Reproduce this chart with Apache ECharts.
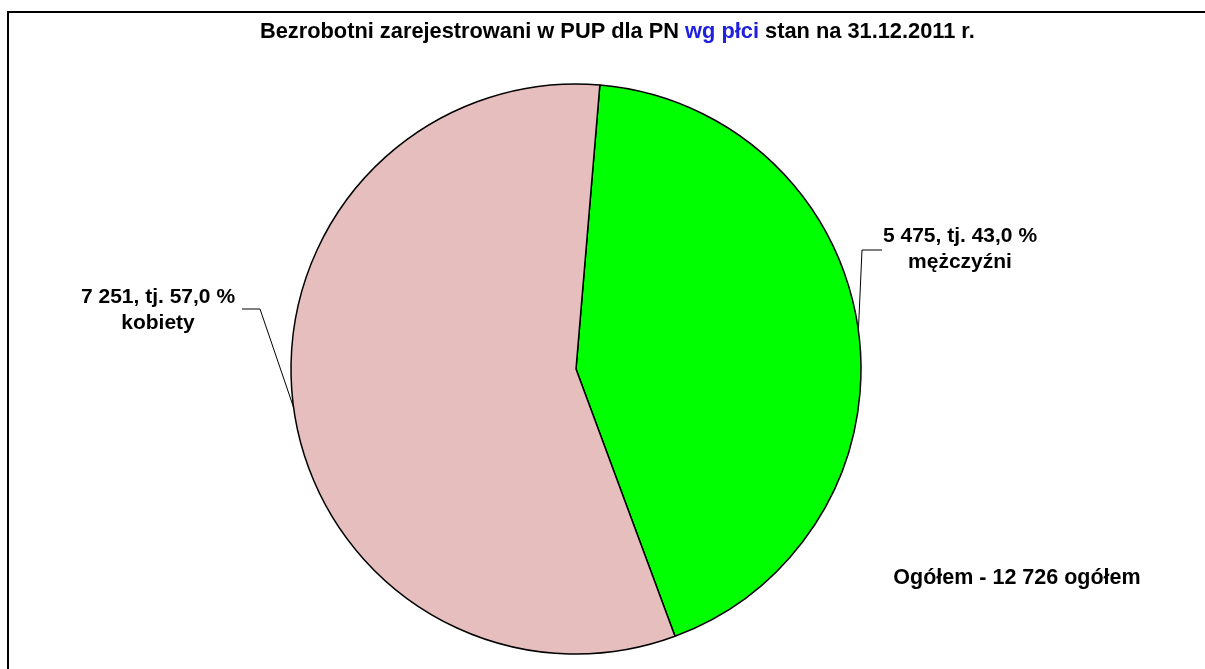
<!DOCTYPE html>
<html>
<head>
<meta charset="utf-8">
<script src="https://cdn.jsdelivr.net/npm/echarts@6/dist/echarts.min.js"></script>
<style>
  html, body { margin: 0; padding: 0; background: #fff; }
  #chart { width: 1205px; height: 669px; }
</style>
</head>
<body>
<div id="chart"></div>
<script>
const categories = ['mężczyźni', 'kobiety']
const values = [5475, 7251]
const colors = ['#00FF00', '#E6BEBE']

const total = values.reduce((a, b) => a + b, 0)

function fmtNum(n) {
  return String(n).replace(/\B(?=(\d{3})+(?!\d))/g, ' ')
}

// label anchors and leader elbows, per slice
const labelPos = [
  { x: 960, y: 249, elbow: [862, 250], end: [882, 250] },
  { x: 158, y: 310, elbow: [260, 309], end: [242, 309] }
]

const chart = echarts.init(document.getElementById('chart'))

chart.setOption({
  animation: false,
  backgroundColor: '#fff',
  title: {
    text: '{a|Bezrobotni zarejestrowani w PUP dla PN }{b|wg płci}{a| stan na 31.12.2011 r.}',
    left: 255,
    top: 16,
    textStyle: {
      rich: {
        a: { fontFamily: 'Liberation Sans, Arial', fontWeight: 'bold', fontSize: 21.8, color: '#000' },
        b: { fontFamily: 'Liberation Sans, Arial', fontWeight: 'bold', fontSize: 21.8, color: '#2020E0' }
      }
    }
  },
  graphic: [
    {
      type: 'rect',
      shape: { x: 8, y: 12, width: 1400, height: 900 },
      style: { fill: null, stroke: '#000', lineWidth: 2 },
      z: 100
    },
    {
      type: 'text',
      x: 1017,
      y: 578,
      style: {
        text: 'Ogółem - ' + fmtNum(total) + ' ogółem',
        fontFamily: 'Liberation Sans, Arial',
        fontWeight: 'bold',
        fontSize: 21.5,
        fill: '#000',
        align: 'center',
        verticalAlign: 'middle'
      }
    }
  ],
  series: [
    {
      type: 'pie',
      center: [576, 369],
      radius: 285,
      startAngle: 85.2,
      clockwise: true,
      data: categories.map((name, i) => ({
        name: name,
        value: values[i],
        itemStyle: { color: colors[i] }
      })),
      itemStyle: {
        borderColor: '#000',
        borderWidth: 1.5
      },
      label: {
        show: true,
        position: 'outside',
        fontFamily: 'Liberation Sans, Arial',
        fontWeight: 'bold',
        fontSize: 21,
        lineHeight: 26,
        color: '#000',
        align: 'center',
        formatter: (p) => fmtNum(p.value) + ', tj. ' + p.percent.toFixed(1).replace('.', ',') + ' %\n' + p.name
      },
      labelLine: {
        show: true,
        lineStyle: { color: '#000', width: 1 }
      },
      labelLayout: (params) => {
        const pos = labelPos[params.dataIndex]
        const start = params.labelLinePoints ? params.labelLinePoints[0] : pos.elbow
        return {
          x: pos.x,
          y: pos.y,
          align: 'center',
          verticalAlign: 'middle',
          labelLinePoints: [start, pos.elbow, pos.end]
        }
      },
      emphasis: { disabled: true }
    }
  ]
})
</script>
</body>
</html>
